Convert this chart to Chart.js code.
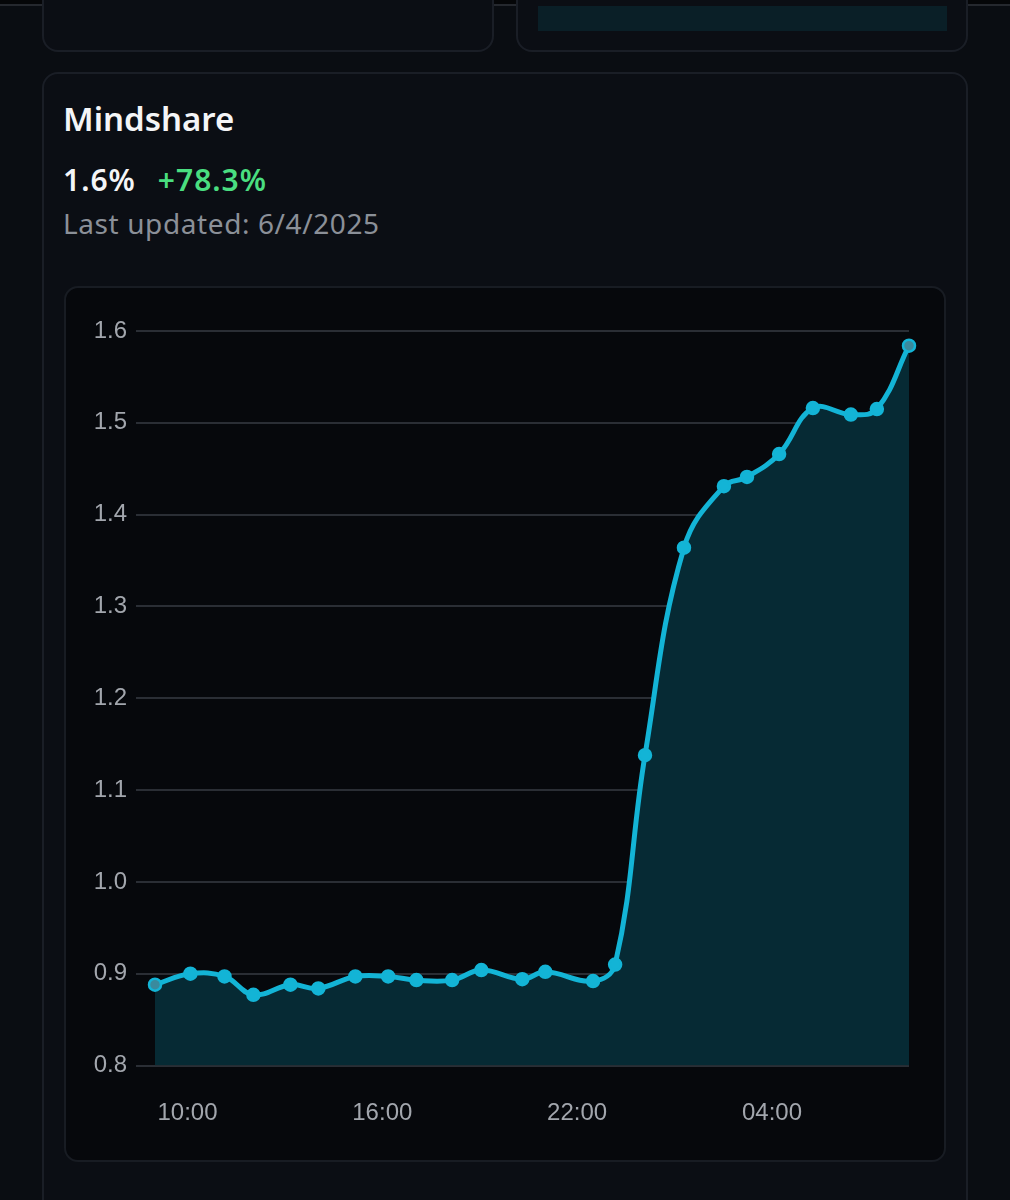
<!DOCTYPE html>
<html>
<head>
<meta charset="utf-8">
<script src="https://cdn.jsdelivr.net/npm/chart.js@4.4.1/dist/chart.umd.min.js"></script>
<style>
  html, body { margin: 0; padding: 0; }
  body {
    width: 1010px; height: 1200px; overflow: hidden; position: relative;
    background: #0a0d12; font-family: "Noto Sans", sans-serif;
  }
  .topline { position: absolute; left: 0; top: 0; width: 1010px; height: 4px; background: #050608; border-bottom: 2px solid #25282e; }
  .card {
    position: absolute; box-sizing: border-box;
    background: #0b0e14; border: 2px solid #1a1e26; border-radius: 16px;
  }
  .teal { position: absolute; left: 538px; top: 6px; width: 409px; height: 25px; background: #0a1f27; }
  .title { position: absolute; left: 63px; top: 102px; color: #f4f5f7; font-size: 33px; font-weight: 600; line-height: 1; }
  .stats { position: absolute; left: 63px; top: 165px; font-size: 30px; font-weight: 600; line-height: 1; letter-spacing: 1px; }
  .stats .v { color: #f4f5f7; }
  .stats .d { color: #4ade80; margin-left: 22px; }
  .updated { position: absolute; left: 63px; top: 209px; color: #8b9098; font-size: 28px; line-height: 1; letter-spacing: 0.6px; }
  .box {
    position: absolute; left: 64px; top: 286px; width: 882px; height: 876px; box-sizing: border-box;
    background: #06080c; border: 2px solid #181c23; border-radius: 14px;
  }
  .plot { position: absolute; left: 64px; top: 286px; width: 882px; height: 876px; }
</style>
</head>
<body>
<div class="topline"></div>
<div class="card" style="left:42px; top:-40px; width:452px; height:92px;"></div>
<div class="card" style="left:516px; top:-40px; width:452px; height:92px;"></div>
<div class="teal"></div>
<div class="card" style="left:42px; top:72px; width:926px; height:1160px;"></div>
<div class="title">Mindshare</div>
<div class="stats"><span class="v">1.6%</span><span class="d">+78.3%</span></div>
<div class="updated">Last updated: 6/4/2025</div>
<div class="box"></div>
<div class="plot"><canvas id="mindshareChart"></canvas></div>

<script>
// hours since midnight of the first day (24+ = next day)
var timeHours = [9.0, 10.09, 11.14, 12.03, 13.17, 14.03, 15.17, 16.18, 17.05, 18.15, 19.05, 20.31,
                 21.02, 22.49, 23.17, 24.09, 25.29, 26.52, 27.23, 28.22, 29.26, 30.43, 31.23, 32.22];
var mindshare = [0.888, 0.900, 0.897, 0.877, 0.888, 0.884, 0.897, 0.897, 0.893, 0.893, 0.904, 0.894,
                 0.902, 0.892, 0.910, 1.138, 1.364, 1.431, 1.441, 1.466, 1.516, 1.509, 1.515, 1.584];
var tickHours = [10, 16, 22, 28];
var tickLabels = ['10:00', '16:00', '22:00', '04:00'];
var yMin = 0.8, yMax = 1.6, yStep = 0.1;

var points = [];
for (var i in timeHours) {
    points.push({ x: timeHours[i], y: mindshare[i] });
}

var lineColor = '#13b4d6';
var pointFill = [];
for (var j = 0; j < points.length; j++) {
    pointFill.push(j === 0 || j === points.length - 1 ? '#3a8a9d' : lineColor);
}

var ctx = document.getElementById('mindshareChart');

var lineChart = new Chart(ctx, {
    type: 'line',
    data: {
        datasets: [{
            label: 'Mindshare',
            data: points,
            borderColor: lineColor,
            borderWidth: 5,
            backgroundColor: '#062a34',
            fill: 'start',
            tension: 0.4,
            pointRadius: 6,
            pointBorderWidth: 2.5,
            pointBorderColor: lineColor,
            pointBackgroundColor: pointFill,
            clip: false
        }]
    },
    options: {
        responsive: true,
        maintainAspectRatio: false,
        animation: false,
        events: [],
        layout: { padding: { left: 0, right: 37, top: 45, bottom: 0 } },
        plugins: {
            legend: { display: false },
            tooltip: { enabled: false }
        },
        scales: {
            x: {
                type: 'linear',
                min: timeHours[0],
                max: timeHours[timeHours.length - 1],
                border: { display: false },
                grid: { display: false, drawTicks: false },
                afterBuildTicks: function (scale) {
                    scale.ticks = tickHours.map(function (h) { return { value: h }; });
                },
                afterFit: function (scale) { scale.height = 96.5; },
                ticks: {
                    padding: 33,
                    color: '#a2a6ad',
                    font: { family: '"Liberation Sans", Arial, sans-serif', size: 24 },
                    maxRotation: 0,
                    callback: function (value) {
                        return tickLabels[tickHours.indexOf(value)];
                    }
                }
            },
            y: {
                min: yMin,
                max: yMax,
                border: { display: false },
                grid: { color: '#2a2e35', lineWidth: 2, tickLength: 19 },
                afterFit: function (scale) { scale.width = 91; },
                ticks: {
                    stepSize: yStep,
                    padding: 9,
                    color: '#a2a6ad',
                    font: { family: '"Liberation Sans", Arial, sans-serif', size: 24 },
                    callback: function (value) { return value.toFixed(1); }
                }
            }
        }
    }
});
</script>
</body>
</html>
